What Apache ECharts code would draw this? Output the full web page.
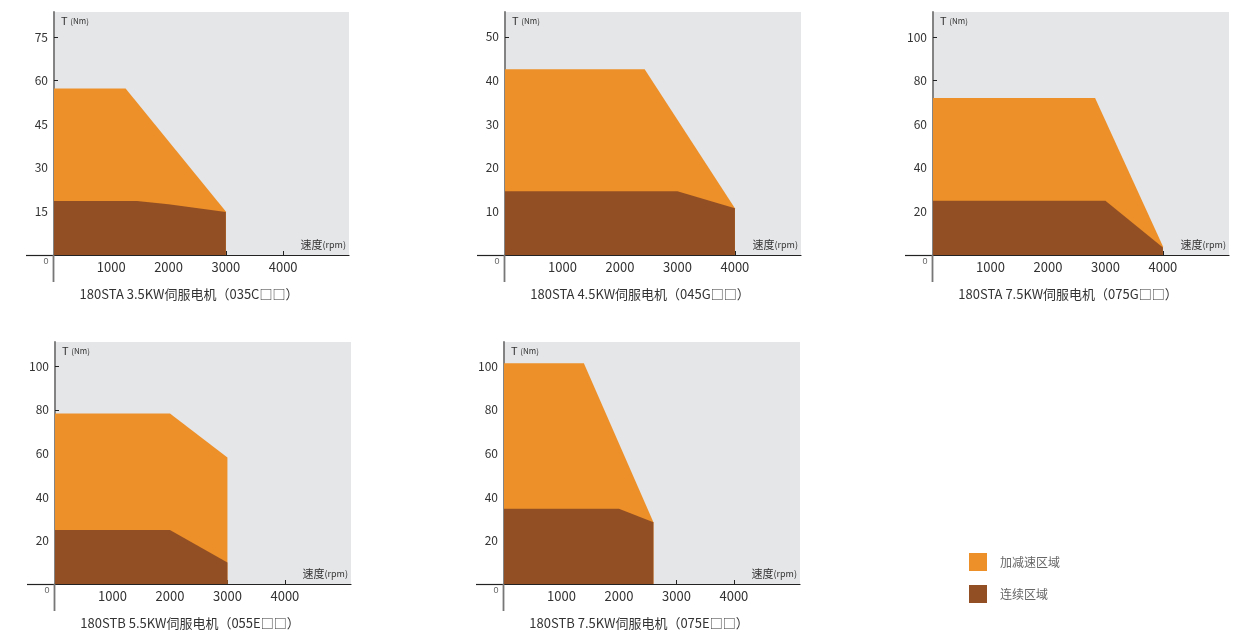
<!DOCTYPE html>
<html><head><meta charset="utf-8">
<script src="https://cdn.jsdelivr.net/npm/echarts@6/dist/echarts.min.js"></script>
<style>html,body{margin:0;padding:0;background:#fff}#c{width:1249px;height:635px}</style>
</head><body><div id="c"></div>
<script>
// ---- data ----
const titles = [
  '180STA 3.5KW伺服电机（035C□□）',
  '180STA 4.5KW伺服电机（045G□□）',
  '180STA 7.5KW伺服电机（075G□□）',
  '180STB 5.5KW伺服电机（055E□□）',
  '180STB 7.5KW伺服电机（075E□□）'
];
const accel1 = [[0,57.3],[1250,57.3],[3000,15]];
const cont1  = [[0,18.6],[1450,18.6],[2000,17.5],[3000,14.8]];
const accel2 = [[0,42.6],[2430,42.6],[4000,10.7]];
const cont2  = [[0,14.6],[3000,14.6],[4000,10.7]];
const accel3 = [[0,72],[2820,72],[4000,4]];
const cont3  = [[0,24.9],[3000,24.9],[4000,3.4]];
const accel4 = [[0,78.4],[2000,78.4],[3000,58.1]];
const cont4  = [[0,24.8],[2000,24.8],[3000,9.9]];
const accel5 = [[0,101.4],[1390,101.4],[2600,28.4]];
const cont5  = [[0,34.6],[2000,34.6],[2600,28.4]];
const accelData = [accel1, accel2, accel3, accel4, accel5];
const contData = [cont1, cont2, cont3, cont4, cont5];
const xTicks = [1000, 2000, 3000, 4000];
const yTicks = [
  [15,30,45,60,75],
  [10,20,30,40,50],
  [20,40,60,80,100],
  [20,40,60,80,100],
  [20,40,60,80,100]
];
const yMax = [83.6, 55.7, 111.5, 111.2, 111.2];
const xMax = 5150;
const legendNames = ['加减速区域', '连续区域'];

// ---- layout ----
const grids = [
  {left:54, top:12, width:295, height:243},
  {left:505, top:12, width:296, height:243},
  {left:933, top:12, width:296, height:243},
  {left:55, top:342, width:296, height:242},
  {left:504, top:342, width:296, height:242}
];
const ORANGE = '#ED9029', BROWN = '#934F24', BG = '#E5E6E8';
const FONT = '"Noto Sans CJK SC", "Noto Sans", sans-serif';

const option = {
  animation: false,
  textStyle: {fontFamily: FONT},
  grid: grids.map(g => ({left:g.left, top:g.top, width:g.width, height:g.height,
    show:true, backgroundColor:BG, borderWidth:0})),
  xAxis: grids.map((g,i) => ({
    type:'value', gridIndex:i, min:0, max:xMax,
    axisLine:{show:true, onZero:false, lineStyle:{color:'#222', width:1.2}},
    axisTick:{show:true, inside:true, length:4, customValues:xTicks, lineStyle:{color:'#222'}},
    axisLabel:{customValues:xTicks, fontSize:13, color:'#333', margin:6, fontFamily:FONT,
      formatter: v => String(v)},
    splitLine:{show:false},
    name:'速度{u|(rpm)}', nameLocation:'end', nameGap:-3,
    nameTextStyle:{align:'right', verticalAlign:'bottom', padding:[0,0,5,0], fontSize:11, color:'#333',
      rich:{u:{fontSize:9, color:'#333'}}}
  })),
  yAxis: grids.map((g,i) => ({
    type:'value', gridIndex:i, min:0, max:yMax[i],
    axisLine:{show:true, onZero:false, lineStyle:{color:'#777', width:1.8}},
    axisTick:{show:true, inside:true, length:4, customValues:yTicks[i], lineStyle:{color:'#222'}},
    axisLabel:{customValues:yTicks[i], fontSize:12, color:'#333', margin:6, fontFamily:FONT},
    splitLine:{show:false},
    name:'{t|T} {u|(Nm)}', nameLocation:'end', nameGap:-15,
    nameTextStyle:{align:'left', padding:[0,0,0,7],
      rich:{t:{fontSize:11, color:'#333'}, u:{fontSize:8, color:'#333'}}}
  })),
  title: grids.map((g,i) => ({
    text: titles[i], left: g.left + 135, top: g.top + g.height + 33,
    textAlign:'center', padding:0,
    textStyle:{fontSize:13, fontWeight:'normal', color:'#333', fontFamily:FONT}
  })),
  legend: {
    data: legendNames, orient:'vertical', left:969, top:553, padding:0,
    itemWidth:18, itemHeight:18, itemGap:14, icon:'rect',
    textStyle:{fontSize:12, color:'#666', padding:[0,0,0,8], fontFamily:FONT}
  },
  series: [],
  graphic: []
};
grids.forEach((g,i) => {
  option.series.push({
    name: legendNames[0], type:'line', xAxisIndex:i, yAxisIndex:i,
    data: accelData[i], symbol:'none', lineStyle:{width:0, color:ORANGE},
    itemStyle:{color:ORANGE}, areaStyle:{color:ORANGE, opacity:1}, z:2
  });
  option.series.push({
    name: legendNames[1], type:'line', xAxisIndex:i, yAxisIndex:i,
    data: contData[i], symbol:'none', lineStyle:{width:0, color:BROWN},
    itemStyle:{color:BROWN}, areaStyle:{color:BROWN, opacity:1}, z:3
  });
  const bottom = g.top + g.height;
  option.graphic.push({type:'line', silent:true, z:10,
    shape:{x1:g.left-28, y1:bottom+0.5, x2:g.left, y2:bottom+0.5},
    style:{stroke:'#222', lineWidth:1.2}});
  option.graphic.push({type:'line', silent:true, z:10,
    shape:{x1:g.left-0.5, y1:bottom, x2:g.left-0.5, y2:bottom+27},
    style:{stroke:'#777', lineWidth:1.8}});
  option.graphic.push({type:'text', silent:true, z:10,
    x:g.left-8, y:bottom+7,
    style:{text:'0', fontSize:9, fill:'#666', align:'center', verticalAlign:'middle', font:'9px ' + FONT}});
});
const chart = echarts.init(document.getElementById('c'), null, {renderer:'canvas'});
chart.setOption(option);
</script>
</body></html>
